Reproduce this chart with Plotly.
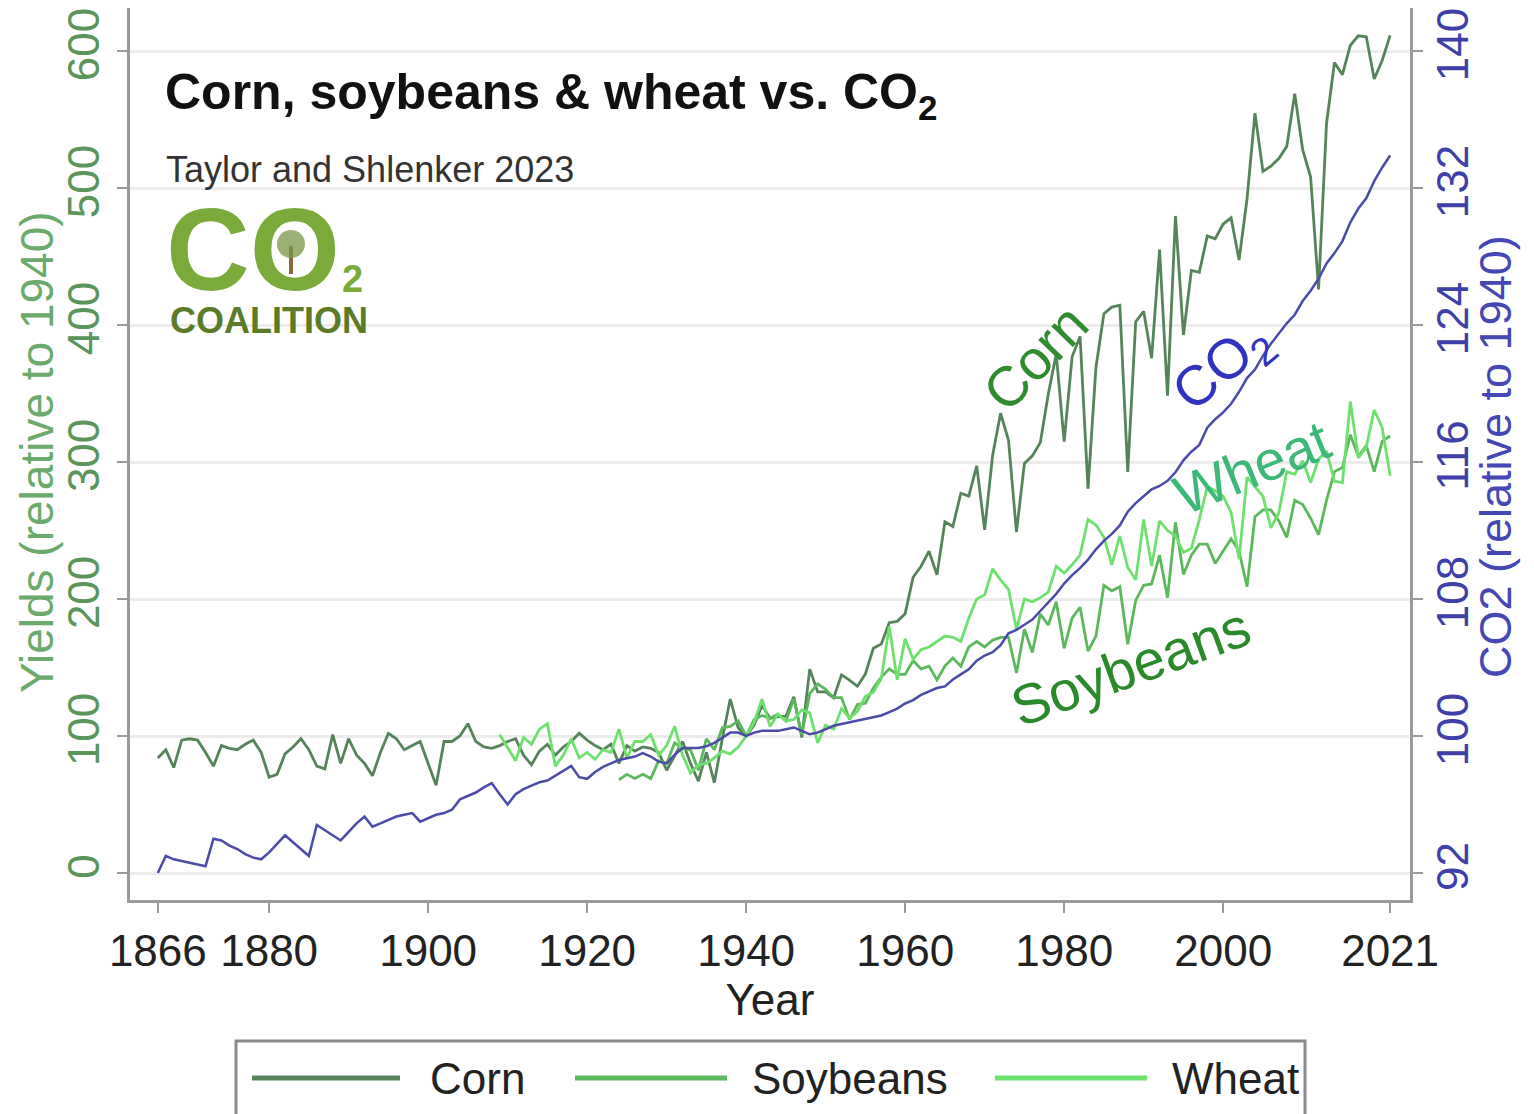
import plotly.graph_objects as go

# ---------------- data (values relative to 1940 = 100) ----------------
corn_start = 1866
corn = [
    84, 90, 77, 97,                                                   # 1866-1869
    98, 97, 88, 78, 93, 91, 90, 94, 97, 88,                           # 1870s
    70, 72, 87, 92, 98, 90, 78, 76, 101, 80,                          # 1880s
    98, 86, 80, 71, 88, 102, 98, 90, 93, 96,                          # 1890s
    80, 64, 96, 96, 100, 109, 96, 92, 91, 93,                         # 1900s
    96, 98, 86, 79, 89, 94, 86, 92, 96, 102,                          # 1910s
    97, 93, 90, 94, 80, 93, 89, 92, 91, 88,                           # 1920s
    75, 86, 96, 80, 67, 88, 66, 98, 127, 106,                         # 1930s
    100, 108, 122.5, 112.8, 114.2, 114.5, 128.7, 99.0, 148.8, 132.2,  # 1940s
    132.2, 127.7, 144.6, 140.8, 136.3, 145.3, 164.0, 167.1, 182.7, 183.7,
    189.3, 215.9, 223.9, 234.9, 217.6, 256.4, 252.9, 277.2, 275.1, 297.2,
    250.5, 304.8, 335.6, 315.9, 248.8, 299.0, 304.5, 314.2, 349.5, 378.9,
    314.9, 376.8, 391.7, 280.6, 369.2, 408.3, 413.1, 414.5, 292.7, 402.4,
    410.0, 375.8, 455.0, 348.4, 479.6, 392.7, 439.8, 438.4, 465.1, 463.0,
    473.7, 478.2, 447.4, 492.0, 554.7, 512.1, 515.9, 521.5, 530.4, 568.9,
    528.0, 508.0, 426.0, 547.1, 591.7, 582.7, 604.2, 611.1, 610.4, 579.6,
    593.1, 611.4,                                                     # 2020-2021
]

soy_start = 1924
soybeans = [
    68, 72, 69, 72, 69, 82,                                           # 1924-1929
    80, 95, 91, 90, 75, 98, 90, 106, 107, 111,                        # 1930s
    100, 112, 115, 113, 116, 111, 127, 101, 131, 138,                 # 1940s
    134, 128, 128, 112, 123, 124, 135, 143, 149, 145,                 # 1950s
    145, 155, 149, 151, 141, 151, 157, 151, 165, 169,                 # 1960s
    165, 170, 172, 172, 146, 178, 161, 189, 181, 198,                 # 1970s
    164, 186, 194, 162, 173, 210, 206, 209, 167, 199,                 # 1980s
    210, 211, 232, 201, 256, 218, 232, 240, 240, 226,                 # 1990s
    235, 244, 235, 209, 260, 265, 265, 257, 245, 272,                 # 2000s
    269, 259, 247, 272, 293, 296, 320, 304, 312, 293,                 # 2010s
    315, 319,                                                         # 2020-2021
]

wheat_start = 1909
wheat = [
    101,                                                              # 1909
    91, 82, 99, 94, 105, 109, 78, 86, 98, 84,                         # 1910s
    88, 83, 90, 88, 105, 84, 96, 96, 101, 86,                         # 1920s
    93, 107, 86, 73, 79, 80, 84, 89, 87, 92,                          # 1930s
    100, 110, 127, 107, 116, 111, 112, 119, 117, 95,                  # 1940s
    108, 105, 120, 113, 118, 129, 132, 142, 180, 141,                 # 1950s
    171, 156, 163, 165, 169, 173, 172, 169, 186, 200,                 # 1960s
    203, 222, 214, 207, 178, 200, 198, 201, 205, 224,                 # 1970s
    219, 225, 232, 258, 254, 245, 225, 246, 223, 214,                 # 1980s
    258, 224, 257, 250, 246, 234, 237, 258, 282, 279,                 # 1990s
    275, 263, 229, 289, 282, 275, 252, 263, 293, 291,                 # 2000s
    301, 285, 302, 308, 286, 285, 344, 303, 311, 338,                 # 2010s
    325, 290,                                                         # 2020-2021
]

co2_start = 1866
co2 = [
    92.0, 93.0, 92.8, 92.7,                                           # 1866-1869
    92.6, 92.5, 92.4, 94.0, 93.9, 93.6, 93.4, 93.1, 92.9, 92.8,
    93.2, 93.7, 94.2, 93.8, 93.4, 93.0, 94.8, 94.5, 94.2, 93.9,
    94.4, 94.9, 95.3, 94.7, 94.9, 95.1, 95.3, 95.4, 95.5, 95.0,
    95.2, 95.4, 95.5, 95.7, 96.3, 96.5, 96.7, 97.0, 97.25, 96.6,
    96.0, 96.6, 96.9, 97.1, 97.3, 97.4, 97.7, 98.0, 98.25, 97.6,
    97.5, 97.9, 98.2, 98.4, 98.6, 98.7, 98.8, 99.0, 98.8, 98.5,
    98.4, 98.9, 99.3, 99.3, 99.3, 99.4, 99.6, 99.9, 100.2, 100.2,
    100.0, 100.2, 100.3, 100.3, 100.3, 100.4, 100.5, 100.3, 100.1, 100.2,
    100.4, 100.6, 100.7, 100.8, 100.9, 101.0, 101.1, 101.2, 101.4, 101.6,
    101.9, 102.1, 102.4, 102.6, 102.8, 102.9, 103.3, 103.6, 103.9, 104.4,
    104.7, 104.9, 105.3, 106.0, 106.2, 106.5, 106.8, 107.3, 107.8, 108.3,
    108.9, 109.4, 109.8, 110.3, 110.9, 111.4, 111.8, 112.3, 113.1, 113.6,
    114.0, 114.4, 114.6, 114.9, 115.4, 116.1, 116.6, 117.0, 118.0, 118.5,
    118.9, 119.4, 120.1, 120.9, 121.4, 122.2, 122.9, 123.5, 124.1, 124.6,
    125.4, 126.0, 126.7, 127.6, 128.2, 128.9, 130.0, 130.8, 131.4, 132.4,
    133.2, 133.9,
]

x_ticks = [1866, 1880, 1900, 1920, 1940, 1960, 1980, 2000, 2021]
left_ticks = [0, 100, 200, 300, 400, 500, 600]
right_ticks = [92, 100, 108, 116, 124, 132, 140]

def years(start, vals):
    return list(range(start, start + len(vals)))

# ---------------- styling ----------------
OFF = 8                      # page body margin offset
PW, PH = 1534, 1114          # target picture size
W, H = PW - OFF, PH - OFF
L, R, T, B = 130, 1410, 8, 900   # plot-area edges in picture pixels
FONT = "Liberation Sans, Arial, sans-serif"
C_CORN, C_SOY, C_WHEAT, C_CO2 = "#56845a", "#5cb85c", "#6ee06e", "#4b4baa"
C_LEFT, C_RIGHT = "#5a955a", "#3f3faa"
AXIS_GREY = "#9a9a9a"

def pxx(x):
    return (x - L) / (R - L)

def pxy(y):
    return (B - y) / (B - T)

left_range = [-19.7, 631.4]
right_range = [92 + 0.08 * left_range[0], 92 + 0.08 * left_range[1]]

fig = go.Figure()
fig.add_trace(go.Scatter(x=years(corn_start, corn), y=corn, mode="lines", name="Corn",
                         line=dict(color=C_CORN, width=2.8), showlegend=False))
fig.add_trace(go.Scatter(x=years(soy_start, soybeans), y=soybeans, mode="lines", name="Soybeans",
                         line=dict(color=C_SOY, width=2.8), showlegend=False))
fig.add_trace(go.Scatter(x=years(wheat_start, wheat), y=wheat, mode="lines", name="Wheat",
                         line=dict(color=C_WHEAT, width=2.8), showlegend=False))
fig.add_trace(go.Scatter(x=years(co2_start, co2), y=co2, mode="lines", name="CO2",
                         line=dict(color=C_CO2, width=2.5), yaxis="y2", showlegend=False))

fig.update_layout(
    width=W, height=H,
    margin=dict(l=L - OFF, r=PW - R, t=T - OFF, b=PH - B),
    paper_bgcolor="white", plot_bgcolor="white",
    font=dict(family=FONT, size=44, color="#222"),
    xaxis=dict(range=[1862.5, 2023.5], tickvals=x_ticks, ticktext=[str(v) for v in x_ticks],
               showgrid=False, zeroline=False, showline=True, linecolor=AXIS_GREY, linewidth=3,
               ticks="outside", ticklen=10, tickwidth=2, tickcolor=AXIS_GREY,
               tickfont=dict(size=44, color="#222"),
               title=dict(text="Year", font=dict(size=44, color="#222"), standoff=4)),
    yaxis=dict(range=left_range, tickvals=left_ticks, showgrid=True, gridcolor="#ececec", gridwidth=3,
               zeroline=False, showline=True, linecolor=AXIS_GREY, linewidth=3,
               ticks="outside", ticklen=10, tickwidth=2, tickcolor=AXIS_GREY,
               tickangle=-90, ticklabeloverflow="allow", tickfont=dict(size=44, color=C_LEFT)),
    yaxis2=dict(range=right_range, tickvals=right_ticks, overlaying="y", side="right",
                showgrid=False, zeroline=False, showline=True, linecolor=AXIS_GREY, linewidth=3,
                ticks="outside", ticklen=10, tickwidth=2, tickcolor=AXIS_GREY,
                tickangle=-90, ticklabelstandoff=-8, ticklabeloverflow="allow",
                tickfont=dict(size=44, color=C_RIGHT)),
)

ann = []
# axis titles
ann.append(dict(xref="paper", yref="paper", x=pxx(37), y=pxy(452), xanchor="center", yanchor="middle",
                textangle=-90, showarrow=False,
                text="Yields (relative to 1940)", font=dict(size=46, color="#6aaa6a", family=FONT)))
ann.append(dict(xref="paper", yref="paper", x=pxx(1496), y=pxy(457), xanchor="center", yanchor="middle",
                textangle=-90, showarrow=False,
                text="CO2 (relative to 1940)", font=dict(size=45, color="#4646b4", family=FONT)))
# title + subtitle
ann.append(dict(xref="paper", yref="paper", x=pxx(163), y=pxy(96), xanchor="left", yanchor="middle",
                text="<b>Corn, soybeans &amp; wheat vs. CO<sub>2</sub></b>", showarrow=False,
                font=dict(size=50, color="#111", family=FONT)))
ann.append(dict(xref="paper", yref="paper", x=pxx(164), y=pxy(170), xanchor="left", yanchor="middle",
                text="Taylor and Shlenker 2023", showarrow=False,
                font=dict(size=36, color="#333", family=FONT)))
# logo
ann.append(dict(xref="paper", yref="paper", x=pxx(164), y=pxy(250), xanchor="left", yanchor="middle",
                text="<b>CO</b>", showarrow=False, font=dict(size=116, color="#79aa3a", family=FONT)))
ann.append(dict(xref="paper", yref="paper", x=pxx(340), y=pxy(279), xanchor="left", yanchor="middle",
                text="<b>2</b>", showarrow=False, font=dict(size=38, color="#79aa3a", family=FONT)))
ann.append(dict(xref="paper", yref="paper", x=pxx(168), y=pxy(320), xanchor="left", yanchor="middle",
                text="<b>COALITION</b>", showarrow=False, font=dict(size=36, color="#5b7b2b", family=FONT)))
# in-plot series labels
ann.append(dict(xref="x", yref="y", x=1976.4, y=376, text="Corn", textangle=-46, showarrow=False,
                font=dict(size=56, color="#2e8b2e", family=FONT)))
ann.append(dict(xref="x", yref="y", x=2000.0, y=369, text="CO<sub>2</sub>", textangle=-40, showarrow=False,
                font=dict(size=56, color="#3232c0", family=FONT)))
ann.append(dict(xref="x", yref="y", x=2003.6, y=296, text="Wheat", textangle=-22, showarrow=False,
                font=dict(size=56, color="#3cb878", family=FONT)))
ann.append(dict(xref="x", yref="y", x=1988.4, y=151, text="Soybeans", textangle=-20, showarrow=False,
                font=dict(size=56, color="#2a8a2a", family=FONT)))

shapes = []
# small tree inside the logo "O"
shapes.append(dict(type="line", xref="paper", yref="paper", x0=pxx(291), x1=pxx(291), y0=pxy(274), y1=pxy(246),
                   line=dict(color="#8a6a3a", width=4)))
shapes.append(dict(type="circle", xref="paper", yref="paper", x0=pxx(277), x1=pxx(305), y0=pxy(258), y1=pxy(230),
                   line=dict(width=0), fillcolor="rgba(120,150,70,0.75)"))

# legend (drawn below the plot)
shapes.append(dict(type="rect", xref="paper", yref="paper", x0=pxx(236), x1=pxx(1305), y0=pxy(1135), y1=pxy(1041),
                   line=dict(color="#8a8a8a", width=3), fillcolor="white", layer="below"))
legend_items = [("Corn", C_CORN, 252, 400, 428), ("Soybeans", C_SOY, 575, 727, 750), ("Wheat", C_WHEAT, 995, 1147, 1170)]
for name, col, lx0, lx1, tx in legend_items:
    shapes.append(dict(type="line", xref="paper", yref="paper", x0=pxx(lx0), x1=pxx(lx1), y0=pxy(1078), y1=pxy(1078),
                       line=dict(color=col, width=5)))
    ann.append(dict(xref="paper", yref="paper", x=pxx(tx), y=pxy(1078), xanchor="left", yanchor="middle",
                    text=name, showarrow=False, font=dict(size=44, color="#222", family=FONT)))

fig.update_layout(annotations=ann, shapes=shapes)
fig.write_html("out.html")
